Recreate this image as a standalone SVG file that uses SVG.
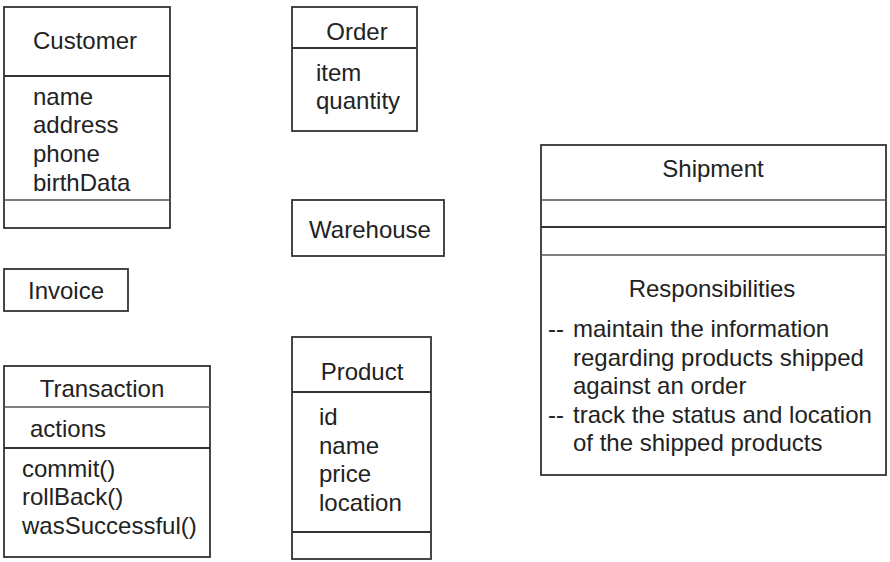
<svg xmlns="http://www.w3.org/2000/svg" width="890" height="562" viewBox="0 0 890 562">
<style>
.box{fill:#fff;stroke:#333;stroke-width:1.8}
.div{stroke:#333;stroke-width:1.8}
.thin{stroke:#555;stroke-width:1.3}
text{font-family:"Liberation Sans",Arial,sans-serif;font-size:24px;fill:#222}
.c{text-anchor:middle}
</style>
<rect width="890" height="562" fill="#fff"/>
<g id="customer">
<rect class="box" x="4" y="7" width="166" height="221"/>
<line class="div" x1="4" y1="76" x2="170" y2="76"/>
<line class="thin" x1="4" y1="200" x2="170" y2="200"/>
<text x="33" y="49">Customer</text>
<text x="33" y="105">name</text>
<text x="33" y="133">address</text>
<text x="33" y="162">phone</text>
<text x="33" y="191">birthData</text>
</g>
<g id="order">
<rect class="box" x="292" y="7" width="125" height="124"/>
<line class="div" x1="292" y1="48" x2="417" y2="48"/>
<text class="c" x="357" y="40">Order</text>
<text x="316" y="81">item</text>
<text x="316" y="109">quantity</text>
</g>
<g id="warehouse">
<rect class="box" x="292" y="200" width="152" height="56"/>
<text class="c" x="370" y="238">Warehouse</text>
</g>
<g id="invoice">
<rect class="box" x="4" y="269" width="124" height="42"/>
<text class="c" x="66" y="299">Invoice</text>
</g>
<g id="transaction">
<rect class="box" x="4" y="366" width="206" height="191"/>
<line class="thin" x1="4" y1="407" x2="210" y2="407"/>
<line class="div" x1="4" y1="448" x2="210" y2="448"/>
<text class="c" x="102" y="397">Transaction</text>
<text x="30" y="437">actions</text>
<text x="22" y="477">commit()</text>
<text x="22" y="505">rollBack()</text>
<text x="22" y="534">wasSuccessful()</text>
</g>
<g id="product">
<rect class="box" x="292" y="337" width="139" height="222"/>
<line class="div" x1="292" y1="392" x2="431" y2="392"/>
<line class="div" x1="292" y1="532" x2="431" y2="532"/>
<text class="c" x="362" y="380">Product</text>
<text x="319" y="425">id</text>
<text x="319" y="454">name</text>
<text x="319" y="482">price</text>
<text x="319" y="511">location</text>
</g>
<g id="shipment">
<rect class="box" x="541" y="145" width="345" height="330"/>
<line class="thin" x1="541" y1="200" x2="886" y2="200"/>
<line class="div" x1="541" y1="227" x2="886" y2="227"/>
<line class="thin" x1="541" y1="255" x2="886" y2="255"/>
<text class="c" x="713" y="177">Shipment</text>
<text class="c" x="712" y="297">Responsibilities</text>
<text x="548" y="337">--</text>
<text x="573" y="337">maintain the information</text>
<text x="573" y="366">regarding products shipped</text>
<text x="573" y="394">against an order</text>
<text x="548" y="423">--</text>
<text x="573" y="423">track the status and location</text>
<text x="573" y="451">of the shipped products</text>
</g>
<g id="connectors"></g>
</svg>
